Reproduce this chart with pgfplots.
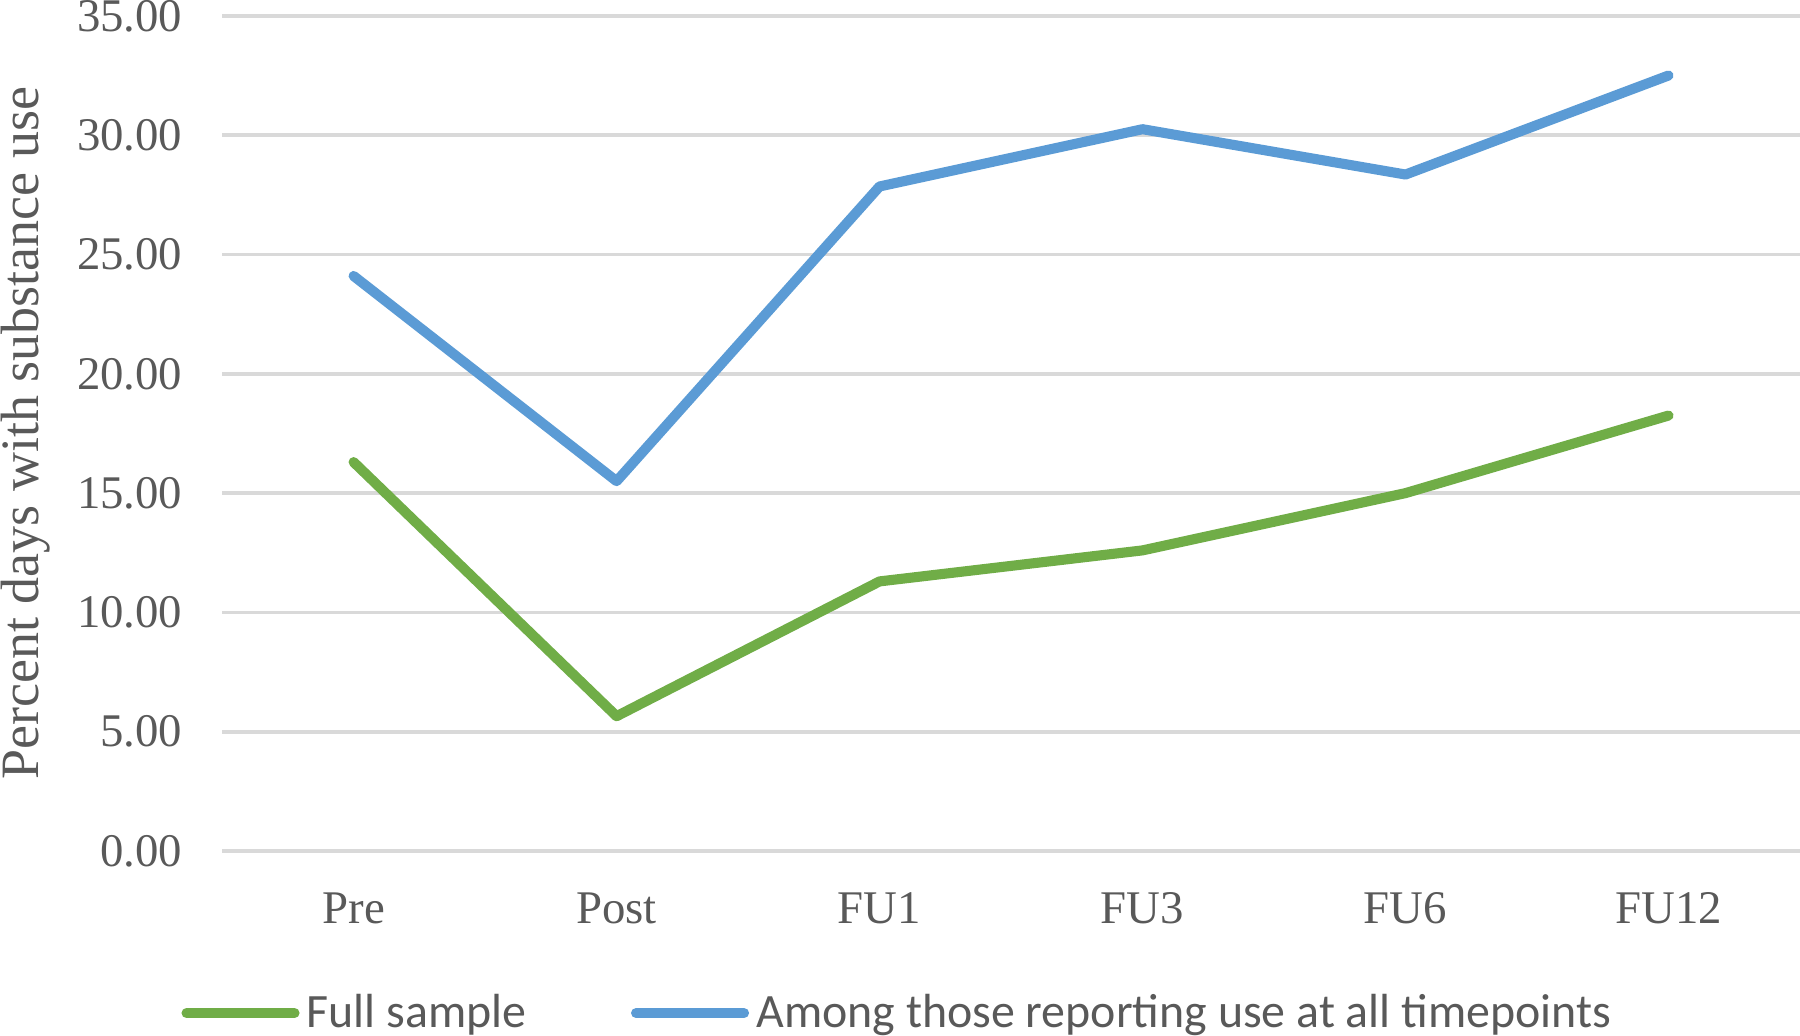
\documentclass[border=0pt]{standalone}
\usepackage{fontspec}
\setmainfont{Liberation Serif}
\newfontfamily\legfont{Carlito}
\usepackage{pgfplots}
\pgfplotsset{compat=1.18}
\definecolor{fullgreen}{HTML}{70AD47}
\definecolor{allblue}{HTML}{5B9BD5}
\definecolor{gridgray}{HTML}{D9D9D9}
\definecolor{txtgray}{HTML}{595959}
\begin{document}
\begin{tikzpicture}
\begin{axis}[
at={(0,0)}, anchor=south west,
scale only axis,
width=438.3pt, height=232pt,
xmin=-0.5, xmax=5.5, ymin=0, ymax=35,
xtick={0,1,2,3,4,5},
xticklabels={Pre,Post,FU1,FU3,FU6,FU12},
ytick={0,5,10,15,20,25,30,35},
axis lines*=left,
axis line style={draw=none},
major tick length=0pt,
ymajorgrids,
grid style={gridgray, line width=1pt},
tick label style={font=\fontsize{13}{15}\selectfont, text=txtgray},
xticklabel style={yshift=-8pt},
yticklabel style={xshift=-7.5pt},
yticklabel={\pgfmathprintnumber[fixed,fixed zerofill,precision=2,assume math mode=true]{\tick}},
ylabel={Percent days with substance use},
ylabel style={at={([xshift=-54.5pt]axis description cs:0,0.5)}, anchor=center,
  font=\fontsize{15}{17}\selectfont, text=txtgray},
legend columns=2,
legend style={at={(axis description cs:0.4296,-0.194)}, anchor=center, draw=none, fill=none,
  font=\legfont\fontsize{13.3}{15}\selectfont, text=txtgray,
  /tikz/every even column/.append style={column sep=27pt},
  cells={anchor=west}, inner sep=0pt},
legend image code/.code={\draw[#1, line cap=round] (0pt,0pt) -- (30pt,0pt);},
every axis plot/.append style={line width=2.8pt, line join=round, line cap=round, mark=none},
]
\addplot[fullgreen] coordinates {(0,16.3) (1,5.65) (2,11.3) (3,12.6) (4,15.0) (5,18.25)};
\addlegendentry{Full sample}
\addplot[allblue] coordinates {(0,24.1) (1,15.5) (2,27.85) (3,30.25) (4,28.35) (5,32.5)};
\addlegendentry{Among those reporting use at all timepoints}
\end{axis}
\pgfresetboundingbox
\useasboundingbox (-61.7pt,-51.1pt) rectangle (438.3pt,236.4pt);
\end{tikzpicture}
\end{document}
